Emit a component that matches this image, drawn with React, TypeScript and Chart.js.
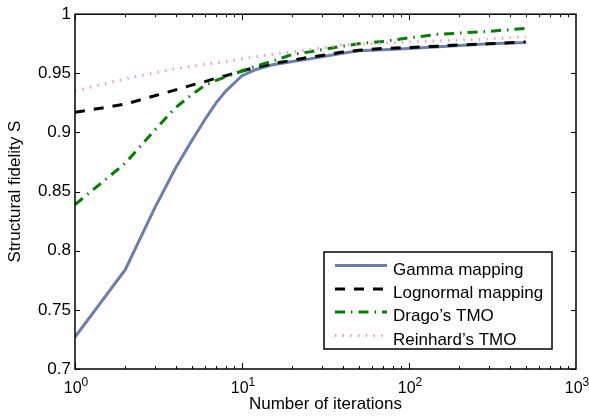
import React, { useEffect, useRef } from 'react';
import { Chart, registerables } from 'chart.js';

Chart.register(...registerables);

// ---- data ----
const iterations = [1, 2, 3, 4, 5, 6, 7, 8, 10, 12, 15, 20, 25, 30, 40, 50, 70, 100, 150, 200, 300, 500];
const gammaMapping = [0.727, 0.784, 0.836, 0.870, 0.893, 0.911, 0.925, 0.935, 0.948, 0.953, 0.957, 0.960, 0.962, 0.964, 0.967, 0.969, 0.970, 0.971, 0.9725, 0.9735, 0.975, 0.976];
const lognormalMapping = [0.917, 0.924, 0.931, 0.936, 0.940, 0.943, 0.946, 0.948, 0.952, 0.955, 0.958, 0.961, 0.9635, 0.965, 0.968, 0.9695, 0.971, 0.9718, 0.973, 0.974, 0.975, 0.9766];
const dragoTMO = [0.839, 0.874, 0.902, 0.921, 0.932, 0.940, 0.944, 0.947, 0.952, 0.956, 0.960, 0.966, 0.968, 0.970, 0.973, 0.975, 0.977, 0.980, 0.983, 0.984, 0.9855, 0.988];
const reinhardTMO = [0.935, 0.9455, 0.9505, 0.954, 0.956, 0.9577, 0.9588, 0.9597, 0.9622, 0.964, 0.966, 0.968, 0.970, 0.9715, 0.974, 0.9748, 0.9755, 0.9765, 0.9775, 0.978, 0.979, 0.981];
const seriesLabels = ['Gamma mapping', 'Lognormal mapping', 'Drago\u2019s TMO', 'Reinhard\u2019s TMO'];
const xDecades = [0, 1, 2, 3];
const yMin = 0.7;
const yMax = 1.0;
const yStep = 0.05;

const FONT = '"Liberation Sans", Arial, Helvetica, sans-serif';

const decorPlugin = {
  id: 'decor',
  afterDraw(chart: any) {
    const { ctx, chartArea: a, scales } = chart;
    const xs = scales.x;
    const ys = scales.y;
    ctx.save();
    ctx.strokeStyle = '#000';
    ctx.lineWidth = 1;
    const line = (x1: number, y1: number, x2: number, y2: number) => {
      ctx.beginPath();
      ctx.moveTo(x1, y1);
      ctx.lineTo(x2, y2);
      ctx.stroke();
    };
    // y ticks (inside, both sides)
    ys.ticks.forEach((t: any) => {
      const py = Math.round(ys.getPixelForValue(t.value)) + 0.5;
      line(a.left, py, a.left + 5, py);
      line(a.right - 5, py, a.right, py);
    });
    // x ticks major + minor
    for (let d = 0; d < 3; d++) {
      for (let m = 1; m <= 9; m++) {
        const v = m * Math.pow(10, d);
        const px = Math.round(xs.getPixelForValue(v)) + 0.5;
        const len = m === 1 ? 6 : 3;
        line(px, a.bottom, px, a.bottom - len);
        line(px, a.top, px, a.top + len);
      }
    }
    // frame
    ctx.lineWidth = 1.5;
    ctx.strokeRect(a.left, a.top, a.right - a.left, a.bottom - a.top);

    // x tick labels 10^n
    ctx.fillStyle = '#000';
    ctx.textBaseline = 'alphabetic';
    ctx.textAlign = 'left';
    xDecades.forEach((e) => {
      const px = xs.getPixelForValue(Math.pow(10, e));
      ctx.font = '16px ' + FONT;
      const w1 = ctx.measureText('10').width;
      ctx.font = '12px ' + FONT;
      const w2 = ctx.measureText(String(e)).width;
      const start = px - (w1 + w2) / 2 + 1;
      ctx.font = '16px ' + FONT;
      ctx.fillText('10', start, a.bottom + 24);
      ctx.font = '12px ' + FONT;
      ctx.fillText(String(e), start + w1, a.bottom + 17);
    });

    // legend
    const lx = 324, ly = 252, lw = 228, lh = 97;
    ctx.fillStyle = '#fff';
    ctx.fillRect(lx, ly, lw, lh);
    ctx.lineWidth = 1.5;
    ctx.strokeStyle = '#000';
    ctx.strokeRect(lx, ly, lw, lh);
    const rows = [265.5, 289, 312, 335.5];
    chart.data.datasets.forEach((ds: any, i: number) => {
      const yy = rows[i];
      ctx.save();
      ctx.strokeStyle = ds.borderColor;
      ctx.lineWidth = ds.borderWidth;
      ctx.setLineDash(ds.borderDash || []);
      ctx.lineCap = 'butt';
      ctx.beginPath();
      ctx.moveTo(335, yy);
      ctx.lineTo(387, yy);
      ctx.stroke();
      ctx.restore();
      ctx.fillStyle = '#000';
      ctx.font = '17px ' + FONT;
      ctx.textAlign = 'left';
      ctx.textBaseline = 'alphabetic';
      ctx.fillText(ds.label, 393, yy + 9);
    });
    ctx.restore();
  },
};

export default function App() {
  const ref = useRef<HTMLCanvasElement | null>(null);
  useEffect(() => {
    if (!ref.current) return;
    const mk = (vals: number[]) => iterations.map((x, i) => ({ x, y: vals[i] }));
    const chart = new Chart(ref.current, {
      type: 'line',
      data: {
        datasets: [
          { label: seriesLabels[0], data: mk(gammaMapping), borderColor: '#6b7fad', borderWidth: 3, pointRadius: 0, order: 3 },
          { label: seriesLabels[1], data: mk(lognormalMapping), borderColor: '#000000', borderWidth: 3, borderDash: [10, 9], pointRadius: 0, order: 2 },
          { label: seriesLabels[2], data: mk(dragoTMO), borderColor: '#008000', borderWidth: 3, borderDash: [10, 6, 1.5, 6], pointRadius: 0, order: 1 },
          { label: seriesLabels[3], data: mk(reinhardTMO), borderColor: 'rgb(255,140,190)', borderWidth: 3, borderDash: [1.3, 6.4], pointRadius: 0, order: 0 },
        ] as any,
      },
      options: {
        animation: false,
        responsive: false,
        devicePixelRatio: 1,
        layout: { padding: { top: 14, right: 13, left: 0, bottom: 0 } },
        plugins: { legend: { display: false }, tooltip: { enabled: false } },
        elements: { line: { tension: 0 } },
        scales: {
          x: {
            type: 'logarithmic',
            min: 1,
            max: 1000,
            grid: { display: false },
            border: { display: false },
            ticks: { display: false },
            title: {
              display: true,
              text: 'Number of iterations',
              color: '#000',
              font: { family: FONT, size: 17 },
              padding: { top: 0, bottom: 4 },
            },
            afterFit: (s: any) => { s.height = 50; },
          },
          y: {
            type: 'linear',
            min: yMin,
            max: yMax,
            grid: { display: false, drawTicks: false },
            border: { display: false },
            ticks: {
              stepSize: yStep,
              padding: 4,
              color: '#000',
              font: { family: FONT, size: 17 },
              callback: (v: any) => String(Number(Number(v).toFixed(2))),
            },
            title: {
              display: true,
              text: 'Structural fidelity S',
              color: '#000',
              font: { family: FONT, size: 17 },
              padding: { top: 5, bottom: 0 },
            },
            afterFit: (s: any) => { s.width = 75; },
          },
        },
      } as any,
      plugins: [decorPlugin],
    });
    return () => chart.destroy();
  }, []);
  return (
    <div style={{ position: 'fixed', left: 0, top: 0, width: 589, height: 419, background: '#fff' }}>
      <canvas ref={ref} width={589} height={419} style={{ display: 'block' }} />
    </div>
  );
}
